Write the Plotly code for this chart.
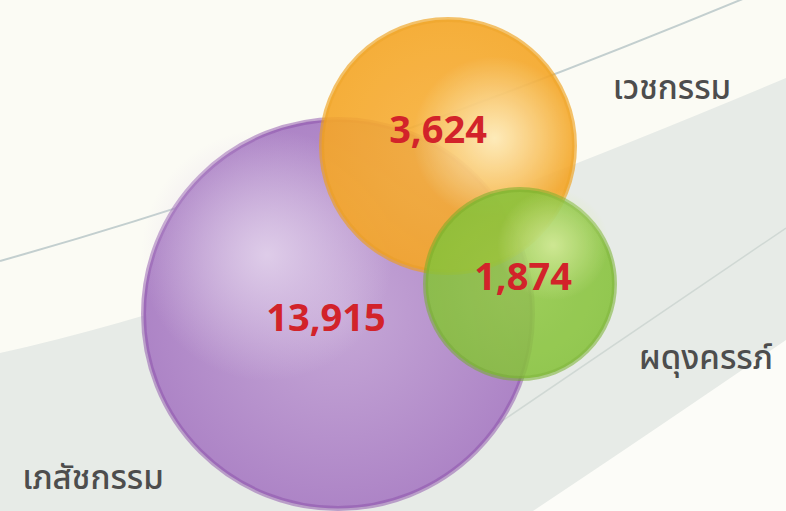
import plotly.graph_objects as go

# ---- data ----
categories = ["เภสัชกรรม", "เวชกรรม", "ผดุงครรภ์"]
values = [13915, 3624, 1874]
bubble_cx = [338, 448, 520]
bubble_cy = [314, 146, 284]
bubble_r = [197, 129, 97]
label_x = [93, 672, 706]
label_y = [481, 91, 361]
text_x = [326, 438, 523]
text_y = [321, 133, 280]

# ---- styles ----
rim_colors = ["rgba(140,80,170,0.5)", "rgba(240,160,25,0.7)", "rgba(115,175,40,0.6)"]
edge_colors = ["#ad84c6", "#f5a627", "#86c23a"]
main_colors = ["#c6a8d7", "#f8b23c", "#92ca45"]
hl_colors = [(224, 207, 234), (255, 244, 205), (218, 238, 160)]
hl_offsets = [(-0.36, -0.30), (0.36, -0.06), (0.34, -0.40)]
hl_scale = [0.64, 0.64, 0.58]
opacities = [1.0, 0.9, 0.87]

W, H = 786, 511
fig = go.Figure()

for i in range(len(values)):
    cx, cy, r = bubble_cx[i], bubble_cy[i], bubble_r[i]
    fig.add_trace(go.Scatter(
        x=[cx], y=[cy], mode="markers", hoverinfo="skip", showlegend=False,
        opacity=opacities[i],
        marker=dict(size=2 * r - 5, sizemode="diameter", color=edge_colors[i],
                    line=dict(width=5, color=rim_colors[i]),
                    gradient=dict(type="radial", color=main_colors[i])),
    ))
    hr, hg, hb = hl_colors[i]
    dx, dy = hl_offsets[i]
    fig.add_trace(go.Scatter(
        x=[cx + dx * r], y=[cy + dy * r], mode="markers", hoverinfo="skip",
        showlegend=False, opacity=opacities[i],
        marker=dict(size=2 * r * hl_scale[i], color=f"rgba({hr},{hg},{hb},0)",
                    line=dict(width=0),
                    gradient=dict(type="radial", color=f"rgba({hr},{hg},{hb},0.95)")),
    ))

fig.add_trace(go.Scatter(
    x=text_x, y=text_y, mode="text", hoverinfo="skip", showlegend=False,
    text=[f"{v:,}" for v in values], textposition="middle center",
    textfont=dict(family="Open Sans", size=38, color="#d2232a", weight="bold"),
))

fig.add_trace(go.Scatter(
    x=label_x, y=label_y, mode="text", hoverinfo="skip", showlegend=False,
    text=categories, textposition="middle center",
    textfont=dict(family="Noto Sans Thai, Noto Sans, Tahoma, sans-serif",
                  size=33, color="#4d4d4d", weight=500),
))

shapes = [
    dict(type="path", path=f"M 0,353 Q 276,292 786,78 L 786,{H} L 0,{H} Z",
         fillcolor="#e7ebe7", line=dict(width=0), layer="below"),
    dict(type="path", path=f"M 533,{H} Q 640,440 786,340 L 786,{H} Z",
         fillcolor="#fcfcf8", line=dict(width=0), layer="below"),
    dict(type="path", path="M 0,261 Q 356,161 786,-19",
         line=dict(color="#c3cfcf", width=2), layer="below"),
    dict(type="path", path="M 430,470 Q 600,355 786,228",
         line=dict(color="#d0d8d4", width=1.5), layer="below"),
]

fig.update_layout(
    width=W, height=H, margin=dict(l=0, r=0, t=0, b=0),
    paper_bgcolor="#fbfbf4", plot_bgcolor="#fbfbf4",
    shapes=shapes,
    xaxis=dict(range=[0, W], visible=False, fixedrange=True),
    yaxis=dict(range=[H, 0], visible=False, fixedrange=True),
)

fig.write_html("out.html", config={"displayModeBar": False},
               post_script="document.body.style.margin='0';document.body.style.overflow='hidden';")
